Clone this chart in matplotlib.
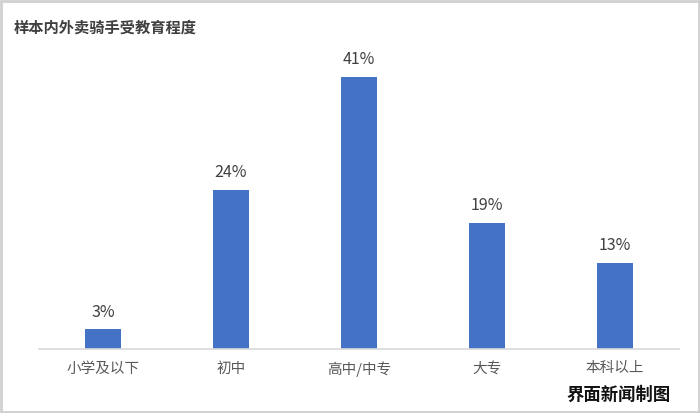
import matplotlib
matplotlib.use("Agg")
import matplotlib.pyplot as plt
from matplotlib.patches import Rectangle

plt.rcParams['font.family'] = ['Noto Sans CJK SC', 'DejaVu Sans']

# data
categories = ['小学及以下', '初中', '高中/中专', '大专', '本科以上']
shares = [3, 24, 41, 19, 13]

fig = plt.figure(figsize=(7.0, 4.13), dpi=100)
ax = fig.add_axes([0.0557, 0.155, 0.914, 0.724])

x = list(range(len(categories)))
bars = ax.bar(x, shares, width=0.28, color='#4472C4')

for b, v in zip(bars, shares):
    ax.annotate(f"{v}%", xy=(b.get_x() + b.get_width() / 2, v),
                xytext=(0, 6), textcoords='offset points',
                ha='center', va='bottom', fontsize=11.5, color='#404040')

ax.set_xlim(-0.5, 4.5)
ax.set_ylim(0, 45)
ax.set_xticks(x)
ax.set_xticklabels(categories, fontsize=10.5, color='#595959')
ax.tick_params(axis='x', length=0, pad=9)
ax.set_yticks([])
for s in ['top', 'right', 'left']:
    ax.spines[s].set_visible(False)
ax.spines['bottom'].set_color('#d9d9d9')
ax.spines['bottom'].set_linewidth(1.2)

fig.text(0.02, 0.932, '样本内外卖骑手受教育程度', fontsize=11, fontweight='bold',
         color='#404040', ha='left', va='center')
fig.text(0.958, 0.045, '界面新闻制图', fontsize=12.5, fontweight='bold',
         color='#111111', ha='right', va='center')

# light frame around the picture
fig.patches.append(Rectangle((0.001, 0.002), 0.997, 0.995, transform=fig.transFigure,
                             fill=False, edgecolor='#d0d0d0', linewidth=2))

fig.savefig('out.png', dpi=100)
